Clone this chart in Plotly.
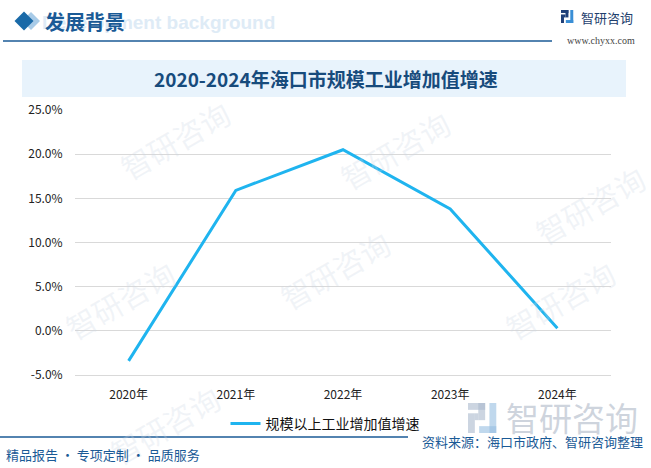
import plotly.graph_objects as go

years = ["2020年", "2021年", "2022年", "2023年", "2024年"]
growth = [-3.4, 15.9, 20.5, 13.8, 0.3]
series_name = "规模以上工业增加值增速"
y_ticks = [-5, 0, 5, 10, 15, 20, 25]
y_tick_labels = ["-5.0%", "0.0%", "5.0%", "10.0%", "15.0%", "20.0%", "25.0%"]

W, H = 651, 468
L, R, T, B = 75, 611, 110, 375


def px(x):
    return (x - L) / (R - L)


def py(y):
    return (B - y) / (B - T)


fig = go.Figure()
fig.add_trace(go.Scatter(
    x=years, y=growth, mode="lines", name=series_name,
    line=dict(color="#1fb4ef", width=3),
))

CJK = "Noto Sans CJK SC"
DARK = "#1a5a96"
shapes = []
ann = []


def rect(x0, y0, x1, y1, color, layer="above"):
    return dict(type="rect", xref="paper", yref="paper", x0=px(x0), x1=px(x1),
                y0=py(y1), y1=py(y0), fillcolor=color, line_width=0, layer=layer)


def logo(x, y, s, c1, c2, layer="above"):
    u = s / 7.0
    return [
        rect(x, y, x + 4 * u, y + 1.6 * u, c1, layer),
        rect(x + 2.4 * u, y, x + 4 * u, y + 4 * u, c1, layer),
        rect(x, y + 2.4 * u, x + 1.6 * u, y + 7 * u, c1, layer),
        rect(x + 1.6 * u, y + 2.4 * u, x + 2.4 * u, y + 4 * u, c1, layer),
        rect(x + 5 * u, y, x + 6.6 * u, y + 7 * u, c2, layer),
        rect(x + 2.6 * u, y + 5.4 * u, x + 6.6 * u, y + 7 * u, c2, layer),
    ]


def text(x, y, s, size, color, family=CJK, xanchor="center", angle=0):
    return dict(x=px(x), y=py(y), xref="paper", yref="paper", text=s, showarrow=False,
                xanchor=xanchor, yanchor="middle", textangle=angle,
                font=dict(family=family, size=size, color=color))


# title band
shapes.append(rect(22, 60, 626, 97, "#e8f3fc", "below"))
# header line
shapes.append(dict(type="line", xref="paper", yref="paper", x0=px(3), x1=px(552),
                   y0=py(41), y1=py(41), line=dict(color=DARK, width=1.5)))
# bottom line
shapes.append(dict(type="line", xref="paper", yref="paper", x0=px(0), x1=px(408),
                   y0=py(437), y1=py(437), line=dict(color=DARK, width=1.5)))


def diamond(cx, cy, r, color):
    pts = [(cx, cy - r), (cx + r, cy), (cx, cy + r), (cx - r, cy)]
    path = "M " + " L ".join(f"{px(a)},{py(b)}" for a, b in pts) + " Z"
    return dict(type="path", xref="paper", yref="paper", path=path,
                fillcolor=color, line_width=0)


shapes.append(diamond(31, 21, 9, "#a8cbe8"))
shapes.append(diamond(24, 21, 9.5, "#1a6aa8"))

# logos
shapes += logo(561, 10, 13, "#1f3f78", "#3a8fd6")
shapes += logo(468, 403, 30, "rgba(170,185,205,0.6)", "rgba(150,190,225,0.6)", "below")

# watermarks
wm_pos = [(175, 140), (395, 150), (590, 205), (120, 300), (335, 270), (560, 300), (165, 425)]
for (wx, wy) in wm_pos:
    ann.append(text(wx, wy, "智研咨询", 30, "rgba(205,215,228,0.28)", angle=-30))

# header texts
ann.append(text(40, 22, "<b>Development background</b>", 19, "#deebf6",
                family="Liberation Sans", xanchor="left"))
ann.append(text(43, 21, "<b>发展背景</b>", 20, DARK, xanchor="left"))
ann.append(text(579, 17, "智研咨询", 13, "#1f3f6e", xanchor="left"))
ann.append(text(637, 40, "www.chyxx.com", 10, "#444", family="Liberation Serif",
                xanchor="right"))
# chart title
ann.append(text(326, 78, "<b>2020-2024年海口市规模工业增加值增速</b>", 19, "#174b7c"))
# bottom texts
ann.append(text(4, 454, "精品报告 · 专项定制 · 品质服务", 13, DARK, xanchor="left"))
ann.append(text(504, 417, "智研咨询", 33, "rgba(190,198,210,0.75)", xanchor="left"))
ann.append(text(420, 441, "资料来源：海口市政府、智研咨询整理", 13, DARK, xanchor="left"))

fig.update_layout(
    width=W, height=H,
    margin=dict(l=L, r=W - R, t=T, b=H - B, pad=0),
    paper_bgcolor="white", plot_bgcolor="rgba(0,0,0,0)",
    shapes=shapes, annotations=ann,
    showlegend=True,
    legend=dict(orientation="h", x=px(325), xanchor="center", y=py(424), yanchor="middle",
                font=dict(family=CJK, size=14, color="#111"), itemwidth=30,
                bgcolor="rgba(0,0,0,0)"),
    xaxis=dict(type="category", range=[-0.5, 4.5], showgrid=False, showline=True,
               linecolor="#d9d9d9", ticks="outside", ticklen=9, tickcolor="rgba(0,0,0,0)",
               tickfont=dict(family=CJK, size=12, color="#222"), zeroline=False),
    yaxis=dict(range=[-5, 25], tickvals=y_ticks, ticktext=y_tick_labels,
               showgrid=True, gridcolor="#d9d9d9", gridwidth=1, zeroline=False,
               showline=False, ticks="outside", ticklen=9, tickcolor="rgba(0,0,0,0)",
               tickfont=dict(family=CJK, size=12, color="#222")),
)

fig.write_html("out.html", config={"displayModeBar": False},
               post_script="document.body.style.margin='0';")
